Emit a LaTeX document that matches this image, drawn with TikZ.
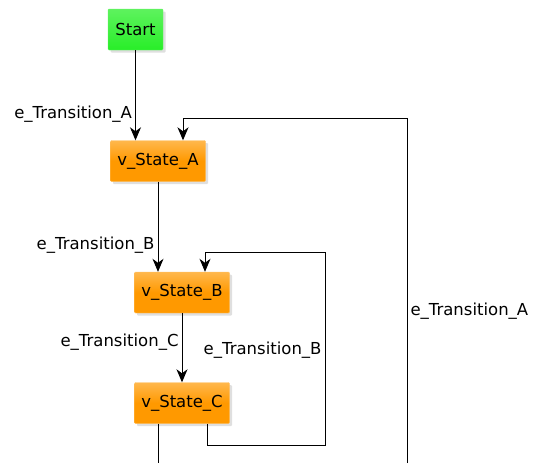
\documentclass[tikz,border=0pt]{standalone}
\usepackage{fontspec}
\setmainfont{DejaVu Sans}
\usetikzlibrary{arrows.meta,shadows}

\definecolor{startgreen}{RGB}{40,238,40}
\definecolor{stateorange}{RGB}{255,153,0}

\begin{document}
\begin{tikzpicture}[x=1pt, y=-1pt,
  font=\fontsize{16.5}{19}\selectfont,
  start/.style = {draw=startgreen!70!white, top color=startgreen!75!white, bottom color=startgreen,
    minimum width=55pt, minimum height=41pt, inner sep=0pt, rounded corners=1pt,
    drop shadow={shadow xshift=2.5pt, shadow yshift=-2.5pt, opacity=0.25}},
  state/.style = {draw=stateorange!60!white, top color=stateorange!70!white, bottom color=stateorange,
    middle color=stateorange, minimum width=95pt, minimum height=41pt, inner sep=0pt, rounded corners=1pt,
    drop shadow={shadow xshift=2.5pt, shadow yshift=-2.5pt, opacity=0.25}},
  edge/.style = {draw, line width=1pt, -{Stealth[length=13pt, width=11pt, inset=4pt]}},
  lbl/.style = {inner sep=3pt}]

\useasboundingbox (0,0) rectangle (535,463);

\node[start] (start) at (135.5,29.5) {Start};
\node[state] (A) at (158,161) {v\_State\_A};
\node[state] (B) at (182,292.5) {v\_State\_B};
\node[state] (C) at (182,403) {v\_State\_C};

% loop points
\coordinate (bA) at (407,463);
\coordinate (tA) at (407,118);
\coordinate (cB) at (207,445);
\coordinate (rB) at (325,445);
\coordinate (tB) at (325,252);
\coordinate (out) at (158,463);

\draw[edge] (start) -- node[lbl, left, pos=0.71] {e\_Transition\_A} (start |- A.north);
\draw[edge] (A.south) -- node[lbl, left, pos=0.7] {e\_Transition\_B} (A.south |- B.north);
\draw[edge] (B) -- node[lbl, left, pos=0.42] {e\_Transition\_C} (C);

\draw[edge] (C.south -| cB) -- (cB) -- (rB) -- node[lbl, left, pos=0.49] {e\_Transition\_B} (tB) -- (tB -| 205,0) -- (B.north -| 205,0);
\draw[edge] (bA) -- node[lbl, right, pos=0.44] {e\_Transition\_A} (tA) -- (tA -| 183,0) -- (A.north -| 183,0);

\draw[line width=1pt] (C.south -| out) -- (out);

\end{tikzpicture}
\end{document}
